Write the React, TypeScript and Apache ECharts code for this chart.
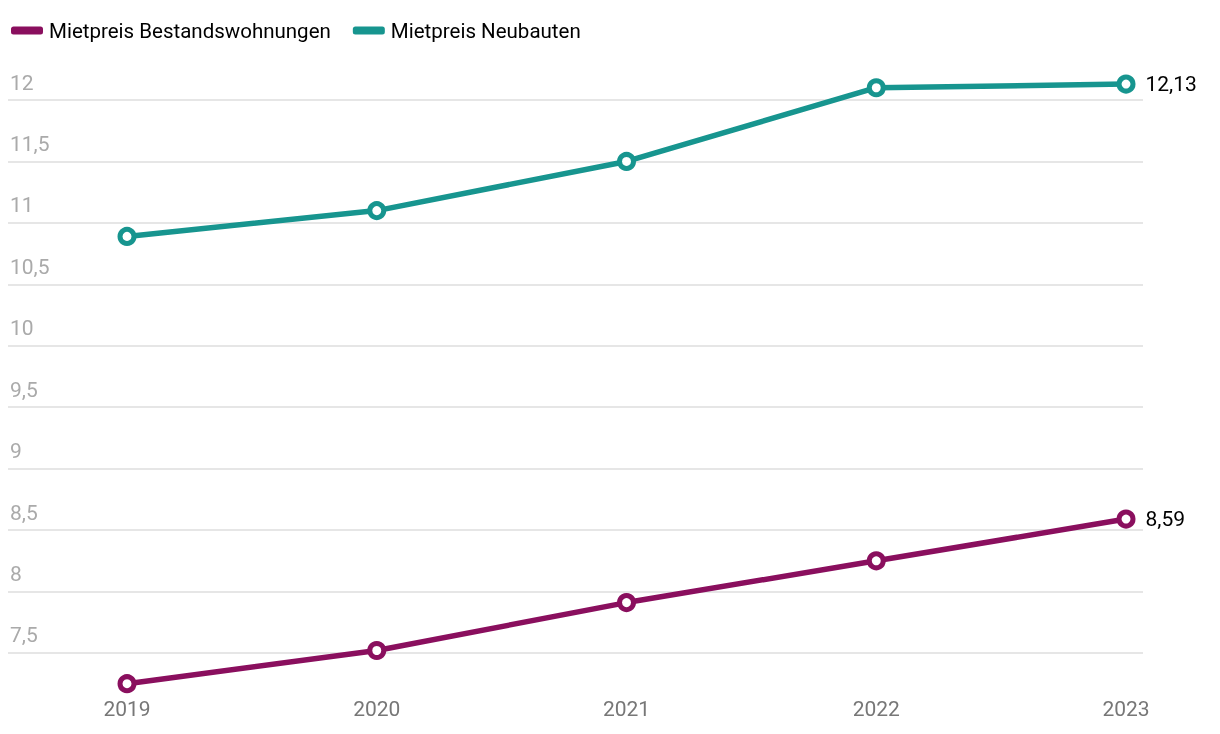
import React, { useEffect, useRef } from "react";
import * as echarts from "echarts";

const years = [2019, 2020, 2021, 2022, 2023];
const bestand = [7.25, 7.52, 7.91, 8.25, 8.59];
const neubau = [10.89, 11.1, 11.5, 12.1, 12.13];
const yTicks = [7.5, 8, 8.5, 9, 9.5, 10, 10.5, 11, 11.5, 12];

const PURPLE = "#8a0f5e";
const TEAL = "#17958f";
const FONT = "Roboto, 'Liberation Sans', sans-serif";

const fmt = (v: number) => String(v).replace(".", ",");

export default function App() {
  const ref = useRef<HTMLDivElement>(null);
  useEffect(() => {
    if (!ref.current) return;
    const chart = echarts.init(ref.current, undefined, { renderer: "svg" });
    const mk = (name: string, vals: number[], color: string) => ({
      name,
      type: "line",
      data: vals.map((v, i) => [years[i], v]),
      lineStyle: { color, width: 5.5 },
      itemStyle: { color: "#fff", borderColor: color, borderWidth: 5 },
      symbol: "circle",
      symbolSize: 14,
      showAllSymbol: true,
      label: {
        show: true,
        position: "right",
        distance: 10,
        color: "#000",
        fontSize: 21,
        fontFamily: FONT,
        formatter: (p: any) => (p.dataIndex === vals.length - 1 ? fmt(vals[p.dataIndex]) : ""),
      },
      z: 3,
    });
    chart.setOption({
      animation: false,
      textStyle: { fontFamily: FONT },
      legend: {
        left: 6,
        top: 15,
        itemWidth: 30,
        itemHeight: 6,
        itemGap: 22,
        icon: "roundRect",
        textStyle: { fontSize: 20.5, color: "#000", fontFamily: FONT, padding: [0, 0, 0, 2] },
        data: [
          { name: "Mietpreis Bestandswohnungen", itemStyle: { color: PURPLE } },
          { name: "Mietpreis Neubauten", itemStyle: { color: TEAL } },
        ],
      },
      grid: { left: 8, right: 77, top: 69.3, bottom: 19.6, containLabel: false },
      xAxis: {
        type: "value",
        min: 2018.5235,
        max: 2023.068,
        axisLine: { show: false },
        axisTick: { show: false },
        splitLine: { show: false },
        axisLabel: {
          customValues: years,
          margin: -16,
          fontSize: 21,
          color: "#777",
          fontFamily: FONT,
          formatter: (v: number) => String(Math.round(v)),
        },
      },
      yAxis: {
        type: "value",
        min: 7,
        max: 12.25,
        interval: 0.5,
        axisLine: { show: false },
        axisTick: { show: false },
        splitLine: {
          show: true,
          showMinLine: false,
          showMaxLine: false,
          lineStyle: { color: "#e6e6e6", width: 2 },
        },
        axisLabel: {
          inside: true,
          margin: 2,
          showMinLabel: false,
          showMaxLabel: false,
          verticalAlign: "bottom",
          padding: [0, 0, 7, 0],
          fontSize: 21,
          color: "#aaa",
          fontFamily: FONT,
          formatter: (v: number) => (yTicks.includes(v) ? fmt(v) : ""),
        },
      },
      series: [mk("Mietpreis Bestandswohnungen", bestand, PURPLE), mk("Mietpreis Neubauten", neubau, TEAL)],
    });
    return () => chart.dispose();
  }, []);
  return <div ref={ref} style={{ position: "fixed", left: 0, top: 0, width: 1220, height: 734 }} />;
}
